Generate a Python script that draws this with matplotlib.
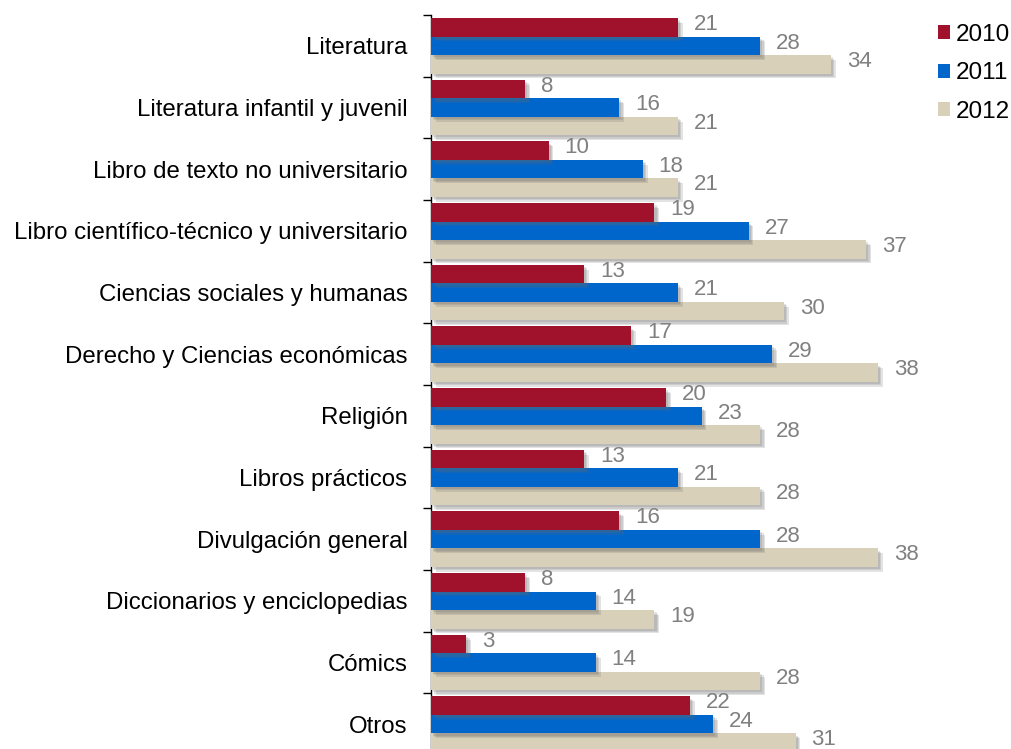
import matplotlib

matplotlib.use("Agg")
import matplotlib.pyplot as plt
import matplotlib.patheffects as pe
import numpy as np
from matplotlib.patches import Patch

plt.rcParams["font.family"] = ["Liberation Sans", "DejaVu Sans"]

categories = [
    "Literatura",
    "Literatura infantil y juvenil",
    "Libro de texto no universitario",
    "Libro científico-técnico y universitario",
    "Ciencias sociales y humanas",
    "Derecho y Ciencias económicas",
    "Religión",
    "Libros prácticos",
    "Divulgación general",
    "Diccionarios y enciclopedias",
    "Cómics",
    "Otros",
]
years = ["2010", "2011", "2012"]
vals_2010 = [21, 8, 10, 19, 13, 17, 20, 13, 16, 8, 3, 22]
vals_2011 = [28, 16, 18, 27, 21, 29, 23, 21, 28, 14, 14, 24]
vals_2012 = [34, 21, 21, 37, 30, 38, 28, 28, 38, 19, 28, 31]
colors = ["#A0112B", "#0066CC", "#D8D0B8"]

W, H = 1011, 749
fig = plt.figure(figsize=(W / 100, H / 100), dpi=100)
# axes spans from the 0-line at x=431 px; the last band runs past the bottom edge
ax = fig.add_axes([431 / W, 1 - 755 / H, 494 / W, 740 / H])

y = np.arange(len(categories))
bar_h = 0.3
# soft drop shadow: a few stacked faint offsets
shadow = [pe.SimplePatchShadow(offset=(d, -d), shadow_rgbFace="#666666", alpha=0.18)
          for d in (1.5, 2.5, 3.5)] + [pe.Normal()]

for k, (vals, col) in enumerate(zip([vals_2010, vals_2011, vals_2012], colors)):
    pos = y + (k - 1) * bar_h
    bars = ax.barh(pos, vals, height=bar_h, color=col, edgecolor="none", zorder=3 - k * 0.1)
    for b in bars:
        b.set_path_effects(shadow)
    for p, v in zip(pos, vals):
        ax.annotate(str(v), (v, p), xytext=(11.5, 2), textcoords="offset points",
                    ha="left", va="center", fontsize=16, color="#808080", zorder=5)

ax.set_xlim(0, 42)
ax.set_ylim(len(categories) - 0.5, -0.5)
ax.set_yticks(y)
ax.set_yticklabels(categories, fontsize=17.3)
ax.set_yticks(np.arange(len(categories) + 1) - 0.5, minor=True)
ax.tick_params(axis="y", which="major", length=0, pad=17)
ax.tick_params(axis="y", which="minor", length=6, width=1, color="#000000")
ax.set_xticks([])
for s in ["top", "right", "bottom"]:
    ax.spines[s].set_visible(False)
ax.spines["left"].set_linewidth(1)

handles = [Patch(facecolor=c, edgecolor="none") for c in colors]
fig.legend(handles, years, loc="upper left", bbox_to_anchor=(928 / W, 1 - 14 / H),
           frameon=False, fontsize=17.5, handlelength=0.5, handleheight=0.5,
           handletextpad=0.25, labelspacing=0.68, borderaxespad=0)

fig.savefig("out.png", dpi=100)
